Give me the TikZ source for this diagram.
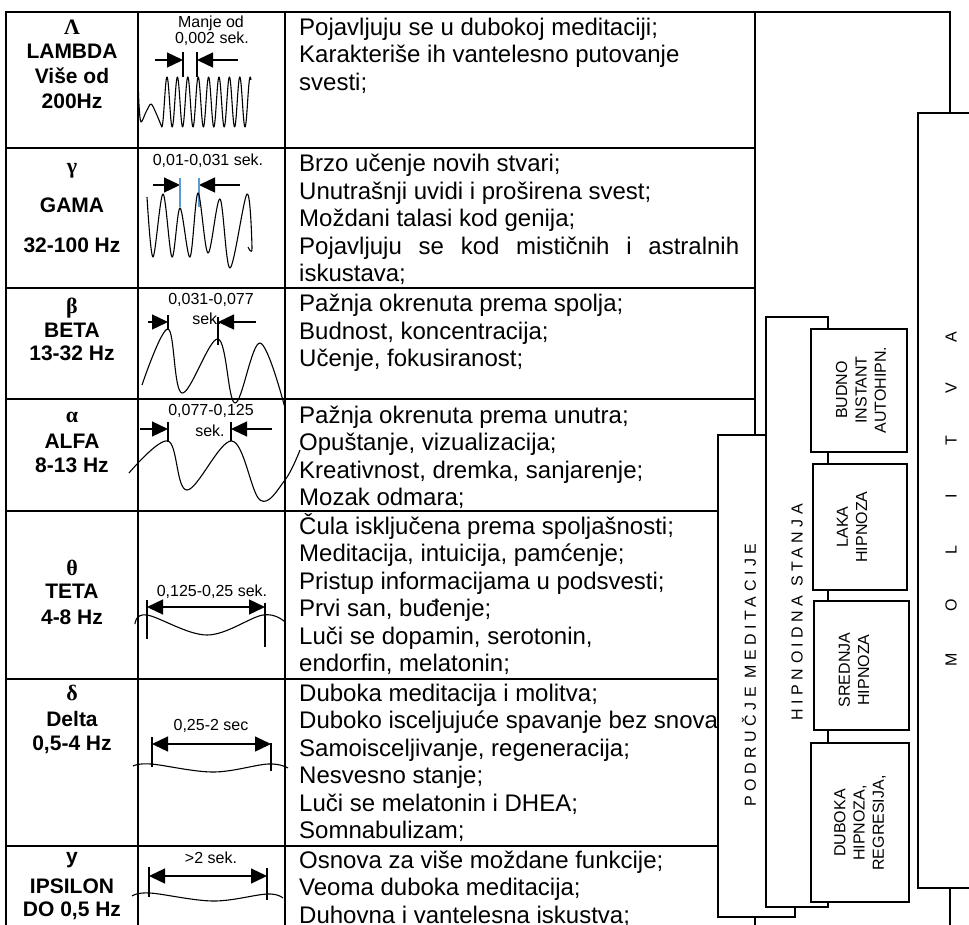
\documentclass[tikz,border=0pt]{standalone}
\usepackage{fontspec}
\setmainfont{Liberation Sans}
\newfontfamily\grk{Liberation Serif}
\newfontfamily\spaced[LetterSpace=28]{Liberation Sans}
\usetikzlibrary{arrows.meta}
\newcommand\Lh[1]{\hbox{#1}}
\newcommand\rowtxt[3]{\node[txt] (#1) at (299,#2) {\vtop{\baselineskip=27.5pt #3}};}
\begin{document}
\begin{tikzpicture}[x=1pt,y=-1pt,
  tline/.style={line width=2.2pt},
  wave/.style={line width=1.1pt, line join=round},
  dim/.style={line width=1.3pt},
  tipR/.style={dim,-{Triangle[length=16pt,width=15pt]}},
  both/.style={dim,{Triangle[length=16pt,width=15pt]}-{Triangle[length=16pt,width=15pt]}},
  tick/.style={line width=1.2pt},
  lab/.style={font=\fontsize{16}{19}\selectfont, inner sep=0},
  hd/.style={font=\fontsize{21}{24}\selectfont\bfseries, inner sep=0, anchor=base},
  gk/.style={font=\fontsize{22}{24}\selectfont\grk\bfseries, inner sep=0, anchor=base},
  txt/.style={font=\fontsize{24}{27.5}\selectfont, inner sep=0, anchor=base west},
  box/.style={draw, line width=2.2pt, fill=white},
  vlab/.style={rotate=90, font=\fontsize{16}{19.3}\selectfont, align=center, inner sep=0},
  vsp/.style={rotate=90, font=\fontsize{16}{19}\selectfont\spaced, inner sep=0},
  vlet/.style={rotate=90, font=\fontsize{16}{19}\selectfont, inner sep=0}]
\useasboundingbox (0,0) rectangle (969,924);
\clip (0,0) rectangle (969,924);
\fill[white] (0,0) rectangle (969,924);

% outer frame
\draw[tline] (755,12) -- (950,12) -- (950,960);
% table
\draw[tline] (6,960) -- (6,12) -- (755,12) -- (755,960);
\foreach \yy in {148,288,399,511,679,846} \draw[tline] (6,\yy) -- (755,\yy);
\foreach \xx in {138,285} \draw[tline] (\xx,12) -- (\xx,960);

% first column
\node[gk] (g1) at (72,34) {Λ};
\node[hd] (n1) at (72,58.5) {LAMBDA};
\node[hd] (f1a) at (72,83) {Više od};
\node[hd] (f1b) at (72,108) {200Hz};
\node[gk] (g2) at (72,173) {γ};
\node[hd] (n2) at (72,212) {GAMA};
\node[hd] (f2) at (72,252) {32-100 Hz};
\node[gk] (g3) at (72,313) {β};
\node[hd] (n3) at (72,337) {BETA};
\node[hd] (f3) at (72,360) {13-32 Hz};
\node[gk] (g4) at (72,422) {α};
\node[hd] (n4) at (72,448) {ALFA};
\node[hd] (f4) at (72,472) {8-13 Hz};
\node[gk] (g5) at (72,575) {θ};
\node[hd] (n5) at (72,598) {TETA};
\node[hd] (f5) at (72,624) {4-8 Hz};
\node[gk] (g6) at (72,700) {δ};
\node[hd] (n6) at (72,726) {Delta};
\node[hd] (f6) at (72,750) {0,5-4 Hz};
\node[hd] (g7) at (72,863) {y};
\node[hd] (n7) at (72,893) {IPSILON};
\node[hd] (f7) at (72,916) {DO 0,5 Hz};

% third column
\rowtxt{t1}{35}{\Lh{Pojavljuju se u dubokoj meditaciji;}\Lh{Karakteriše ih vantelesno putovanje}\Lh{svesti;}}
\rowtxt{t2}{171.7}{\Lh{Brzo učenje novih stvari;}\Lh{Unutrašnji uvidi i proširena svest;}\Lh{Moždani talasi kod genija;}\hbox to 440pt{Pojavljuju\hfill se\hfill kod\hfill mističnih\hfill i\hfill astralnih}\Lh{iskustava;}}
\rowtxt{t3}{311.7}{\Lh{Pažnja okrenuta prema spolja;}\Lh{Budnost, koncentracija;}\Lh{Učenje, fokusiranost;}}
\rowtxt{t4}{423}{\Lh{Pažnja okrenuta prema unutra;}\Lh{Opuštanje, vizualizacija;}\Lh{Kreativnost, dremka, sanjarenje;}\Lh{Mozak odmara;}}
\rowtxt{t5}{534}{\Lh{Čula isključena prema spoljašnosti;}\Lh{Meditacija, intuicija, pamćenje;}\Lh{Pristup informacijama u podsvesti;}\Lh{Prvi san, buđenje;}\Lh{Luči se dopamin, serotonin,}\Lh{endorfin, melatonin;}}
\rowtxt{t6}{701}{\Lh{Duboka meditacija i molitva;}\Lh{Duboko isceljujuće spavanje bez snova}\Lh{Samoisceljivanje, regeneracija;}\Lh{Nesvesno stanje;}\Lh{Luči se melatonin i DHEA;}\Lh{Somnabulizam;}}
\rowtxt{t7}{868}{\Lh{Osnova za više moždane funkcije;}\Lh{Veoma duboka meditacija;}\Lh{Duhovna i vantelesna iskustva;}}

% ---- wave column ----
% lambda
\node[lab] (l1a) at (211,23) {Manje od};
\node[lab] (l1b) at (212,39) {0,002 sek.};
\coordinate (a1l) at (155,60); \coordinate (a1m) at (183,60);
\coordinate (a1r) at (238,60); \coordinate (a1n) at (197,60);
\draw[tipR] (a1l) -- (a1m);
\draw[tipR] (a1r) -- (a1n);
\draw[tick] (183,52) -- (183,77);
\draw[tick] (197,52) -- (197,77);
\draw[wave] plot[smooth, tension=0.5] coordinates {(138,78)(139,105)(141,122)(146,112)(151,104)(156,113)(161.8,127)}
  -- plot[domain=161.8:251, samples=200] (\x,{102-25*cos(34.615*(\x-167))});

% gamma
\node[lab] (l2) at (208,161) {0,01-0,031 sek.};
\coordinate (a2l) at (153,185); \coordinate (a2m) at (180,185);
\coordinate (a2r) at (240,185); \coordinate (a2n) at (199,185);
\draw[tipR] (a2l) -- (a2m);
\draw[tipR] (a2r) -- (a2n);
\draw[tick, color={rgb,255:red,91;green,155;blue,213}] (180,178) -- (180,207);
\draw[tick, color={rgb,255:red,91;green,155;blue,213}] (199,178) -- (199,207);
\draw[wave] plot[smooth, tension=0.55] coordinates {(147,197)(153,257)(163,194)(172,257)(180,208)(190,257)(198,193)(208,253)(220,199)(230,268)(247,194)(252,248)(248,247)};

% beta
\node[lab] (l3a) at (211,300) {0,031-0,077};
\node[lab] (l3b) at (207,319) {sek.};
\coordinate (a3l) at (148,322); \coordinate (a3m) at (168,322);
\coordinate (a3r) at (256,322); \coordinate (a3n) at (218,322);
\draw[tipR] (a3l) -- (a3m);
\draw[tipR] (a3r) -- (a3n);
\draw[tick] (168,315) -- (168,330);
\draw[tick] (218,317) -- (218,345);
\draw[wave] plot[smooth, tension=0.6] coordinates {(142,385)(168,329)(182,393)(218,339)(235,403)(260,343)(285,408)};

% alfa
\node[lab] (l4a) at (211,411) {0,077-0,125};
\node[lab] (l4b) at (210,431) {sek.};
\coordinate (a4l) at (140,429); \coordinate (a4m) at (168,429);
\coordinate (a4r) at (272,429); \coordinate (a4n) at (231,429);
\draw[tipR] (a4l) -- (a4m);
\draw[tipR] (a4r) -- (a4n);
\draw[tick] (168,422) -- (168,442);
\draw[tick] (231,422) -- (231,441);
\draw[wave] plot[smooth, tension=0.6] coordinates {(129,473)(168,441)(187,490)(232,441)(260,500)(285,480)(300,450)};

% teta
\node[lab] (l5) at (212,592) {0,125-0,25 sek.};
\coordinate (a5l) at (147,607); \coordinate (a5r) at (265,607);
\draw[both] (a5l) -- (a5r);
\draw[tick] (147,600) -- (147,639);
\draw[tick] (265,603) -- (265,647);
\draw[wave] plot[smooth, tension=0.6] coordinates {(135,624)(147,615)(207,635)(263,615)(285,622)};

% delta
\node[lab] (l6) at (211,726) {0,25-2 sec};
\coordinate (a6l) at (152,744); \coordinate (a6r) at (271,744);
\draw[both] (a6l) -- (a6r);
\draw[tick] (152,737) -- (152,767);
\draw[tick] (271,743) -- (271,771);
\draw[wave] plot[smooth, tension=0.6] coordinates {(133,766)(151,764)(213,772)(268,764)(288,768)};

% ipsilon
\node[lab] (l7) at (211,858) {>2 sek.};
\coordinate (a7l) at (149,876); \coordinate (a7r) at (267,876);
\draw[both] (a7l) -- (a7r);
\draw[tick] (149,867) -- (149,897);
\draw[tick] (267,868) -- (267,900);
\draw[wave] plot[smooth, tension=0.6] coordinates {(132,896)(150,893)(213,901)(267,894)(283,898)};

% ---- right side ----
\draw[box] (918,113) rectangle (990,888);
\draw[box] (718,435) rectangle (795,917);
\draw[box] (766,317) rectangle (828,907);
\draw[box] (811,329) rectangle (907,452);
\draw[box] (813,464) rectangle (907,590);
\draw[box] (814,601) rectangle (909,730);
\draw[box] (811,743) rectangle (909,902);

\node[vlab] (bu) at (861,390) {BUDNO\\INSTANT\\AUTOHIPN.};
\node[vlab] (la) at (852,527) {LAKA\\HIPNOZA};
\node[vlab] (sr) at (854,670) {SREDNJA\\HIPNOZA};
\node[vlab] (du) at (860,823) {DUBOKA\\HIPNOZA,\\REGRESIJA,};

\node[vsp] (pm) at (749,675) {PODRUČJE MEDITACIJE};
\node[vsp] (hs) at (797,612) {HIPNOIDNA STANJA};

\foreach \ch/\yy [count=\i] in {M/660,O/605,L/550,I/496,T/441,V/388,A/337}
  \node[vlet] (m\i) at (951,\yy) {\ch};
\end{tikzpicture}
\end{document}
